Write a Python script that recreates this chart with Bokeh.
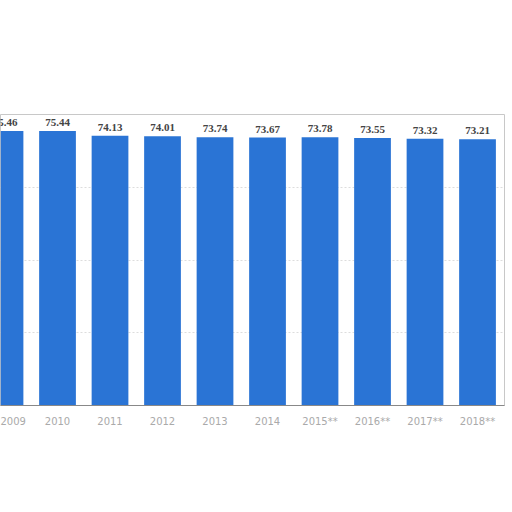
from bokeh.plotting import figure
from bokeh.models import ColumnDataSource, Range1d, FixedTicker, Grid, LabelSet
from bokeh.embed import file_html
from bokeh.resources import INLINE

years = [2009, 2010, 2011, 2012, 2013, 2014, 2015, 2016, 2017, 2018]
year_labels = ["2009", "2010", "2011", "2012", "2013", "2014",
               "2015**", "2016**", "2017**", "2018**"]
values = [75.46, 75.44, 74.13, 74.01, 73.74, 73.67, 73.78, 73.55, 73.32, 73.21]
y_ticks = [0, 20, 40, 60, 80]

src = ColumnDataSource(dict(
    x=years, top=values, lab=["%.2f" % v for v in values]))

p = figure(width=508, height=445, output_backend="svg", toolbar_location=None,
           x_range=Range1d(2008.914, 2018.514), y_range=Range1d(0, 80),
           y_axis_location=None,
           min_border_left=0, min_border_right=4, min_border_top=114,
           min_border_bottom=40)
p.background_fill_color = "white"
p.border_fill_color = "white"
p.outline_line_color = "#c8c8c8"
p.outline_line_width = 1

p.xgrid.visible = False
p.ygrid.visible = False
g = Grid(dimension=1, ticker=FixedTicker(ticks=y_ticks[1:]),
         grid_line_color="#dddddd", grid_line_dash="2 2")
p.add_layout(g, "center")

p.vbar(x="x", top="top", width=0.7, source=src, fill_color="#2a74d5",
       line_color=None)

labels = LabelSet(x="x", y="top", text="lab", source=src, y_offset=5,
                  text_align="center", text_baseline="bottom",
                  text_font="DejaVu Sans", text_font_style="bold",
                  text_font_size="11px", text_color="#444444")
p.add_layout(labels)

p.xaxis.ticker = FixedTicker(ticks=years)
p.xaxis.major_label_overrides = {y: l for y, l in zip(years, year_labels)}
p.xaxis.major_label_text_font = "DejaVu Sans"
p.xaxis.major_label_text_font_size = "10px"
p.xaxis.major_label_text_color = "#aaaaaa"
p.xaxis.axis_line_color = "#888888"
p.xaxis.major_tick_line_color = None
p.xaxis.minor_tick_line_color = None
p.xaxis.major_label_standoff = 4

open("out.html", "w").write(file_html(p, INLINE))
